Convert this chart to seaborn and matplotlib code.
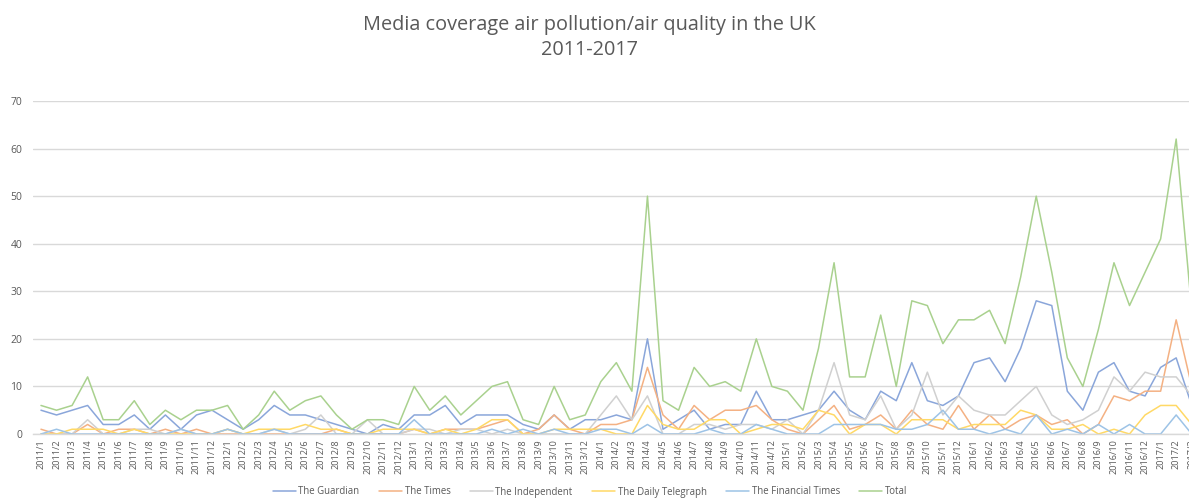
import matplotlib
matplotlib.use("Agg")
import matplotlib.pyplot as plt
import seaborn as sns
import pandas as pd

# Monthly article counts, January 2011 to March 2017
guardian = [5, 4, 5, 6, 2, 2, 4, 1, 4, 1, 4, 5,
            3, 1, 3, 6, 4, 4, 3, 2, 1, 0, 2, 1,
            4, 4, 6, 2, 4, 4, 4, 2, 1, 4, 1, 3,
            3, 4, 3, 20, 1, 3, 5, 1, 2, 2, 9, 3,
            3, 4, 5, 9, 5, 3, 9, 7, 15, 7, 6, 8,
            15, 16, 11, 18, 28, 27, 9, 5, 13, 15, 9, 8,
            14, 16, 6]
times = [1, 0, 0, 2, 0, 1, 1, 0, 1, 0, 1, 0,
         0, 0, 0, 0, 0, 0, 0, 1, 0, 0, 0, 0,
         1, 0, 1, 1, 1, 2, 3, 0, 1, 4, 1, 0,
         2, 2, 3, 14, 4, 1, 6, 3, 5, 5, 6, 3,
         1, 0, 3, 6, 1, 2, 4, 1, 5, 2, 1, 6,
         1, 4, 1, 3, 4, 2, 3, 0, 2, 8, 7, 9,
         9, 24, 10]
independent = [0, 0, 0, 3, 0, 0, 1, 1, 0, 1, 0, 0,
               1, 0, 0, 1, 0, 1, 4, 0, 0, 3, 0, 0,
               1, 1, 0, 1, 1, 0, 1, 0, 0, 0, 0, 0,
               4, 8, 3, 8, 0, 0, 2, 2, 1, 2, 2, 1,
               3, 0, 5, 15, 4, 3, 8, 1, 4, 13, 4, 8,
               5, 4, 4, 7, 10, 4, 2, 3, 5, 12, 9, 13,
               12, 12, 8]
telegraph = [0, 0, 1, 1, 1, 0, 1, 0, 0, 0, 0, 0,
             1, 0, 1, 1, 1, 2, 1, 1, 0, 0, 1, 1,
             1, 0, 1, 0, 1, 3, 3, 0, 0, 1, 1, 1,
             1, 0, 0, 6, 2, 1, 1, 3, 3, 0, 1, 2,
             2, 1, 5, 4, 0, 2, 2, 0, 3, 3, 3, 1,
             2, 2, 2, 5, 4, 1, 1, 2, 0, 1, 0, 4,
             6, 6, 2]
financial_times = [0, 1, 0, 0, 0, 0, 0, 0, 0, 1, 0, 0,
                   1, 0, 0, 1, 0, 0, 0, 0, 0, 0, 0, 0,
                   3, 0, 0, 0, 0, 1, 0, 1, 0, 1, 0, 0,
                   1, 1, 0, 2, 0, 0, 0, 1, 0, 0, 2, 1,
                   0, 0, 0, 2, 2, 2, 2, 1, 1, 2, 5, 1,
                   1, 0, 1, 0, 4, 0, 1, 0, 2, 0, 2, 0,
                   0, 4, 0]
total = [6, 5, 6, 12, 3, 3, 7, 2, 5, 3, 5, 5,
         6, 1, 4, 9, 5, 7, 8, 4, 1, 3, 3, 2,
         10, 5, 8, 4, 7, 10, 11, 3, 2, 10, 3, 4,
         11, 15, 9, 50, 7, 5, 14, 10, 11, 9, 20, 10,
         9, 5, 18, 36, 12, 12, 25, 10, 28, 27, 19, 24,
         24, 26, 19, 33, 50, 34, 16, 10, 22, 36, 27, 34,
         41, 62, 26]

years = list(range(2011, 2018))
month_labels = [f"{y}/{m}" for y in years for m in range(1, 13)][:75]

series_names = ["The Guardian", "The Times", "The Independent",
                "The Daily Telegraph", "The Financial Times", "Total"]
series_values = [guardian, times, independent, telegraph, financial_times, total]
series_colors = ["#8aa6da", "#f4b183", "#d0d0d0", "#ffd966", "#9dc3e6", "#a9d18e"]

df = pd.DataFrame({name: vals for name, vals in zip(series_names, series_values)})
df["month"] = range(len(month_labels))

sns.set_theme(style="white")
plt.rcParams["font.family"] = ["Open Sans", "DejaVu Sans"]

fig = plt.figure(figsize=(11.89, 4.99), dpi=100)
ax = fig.add_axes([33.2 / 1189, 65 / 499, 1166.3 / 1189, 333 / 499])

for name, color in zip(series_names, series_colors):
    sns.lineplot(data=df, x="month", y=name, color=color, linewidth=1.1,
                 label=name, ax=ax)

ax.set_xlim(-0.5, 74.5)
ax.set_ylim(0, 70)
ax.set_yticks(range(0, 71, 10))
ax.set_xticks(range(len(month_labels)))
ax.set_xticklabels(month_labels, rotation=90, fontsize=6.6, color="#595959")
ax.tick_params(axis="y", labelsize=7.5, labelcolor="#595959", length=0, pad=8)
ax.tick_params(axis="x", length=0, pad=4)
ax.set_xlabel("")
ax.set_ylabel("")
ax.grid(axis="y", color="#d9d9d9", linewidth=1.0)
ax.set_axisbelow(True)
for side in ["top", "right", "left"]:
    ax.spines[side].set_visible(False)
ax.spines["bottom"].set_color("#d9d9d9")
ax.spines["bottom"].set_linewidth(1.0)

ax.legend(loc="center", bbox_to_anchor=(590 / 1189, 7 / 499),
          bbox_transform=fig.transFigure, ncol=6, frameon=False,
          fontsize=6.9, handlelength=2.4, columnspacing=2.0,
          labelcolor="#595959", handletextpad=0.3)

fig.text(589 / 1189, 1 - 25 / 499, "Media coverage air pollution/air quality in the UK",
         ha="center", va="center", fontsize=14.3, color="#595959")
fig.text(589 / 1189, 1 - 50 / 499, "2011-2017",
         ha="center", va="center", fontsize=14.3, color="#595959")

fig.savefig("out.png", dpi=100)
